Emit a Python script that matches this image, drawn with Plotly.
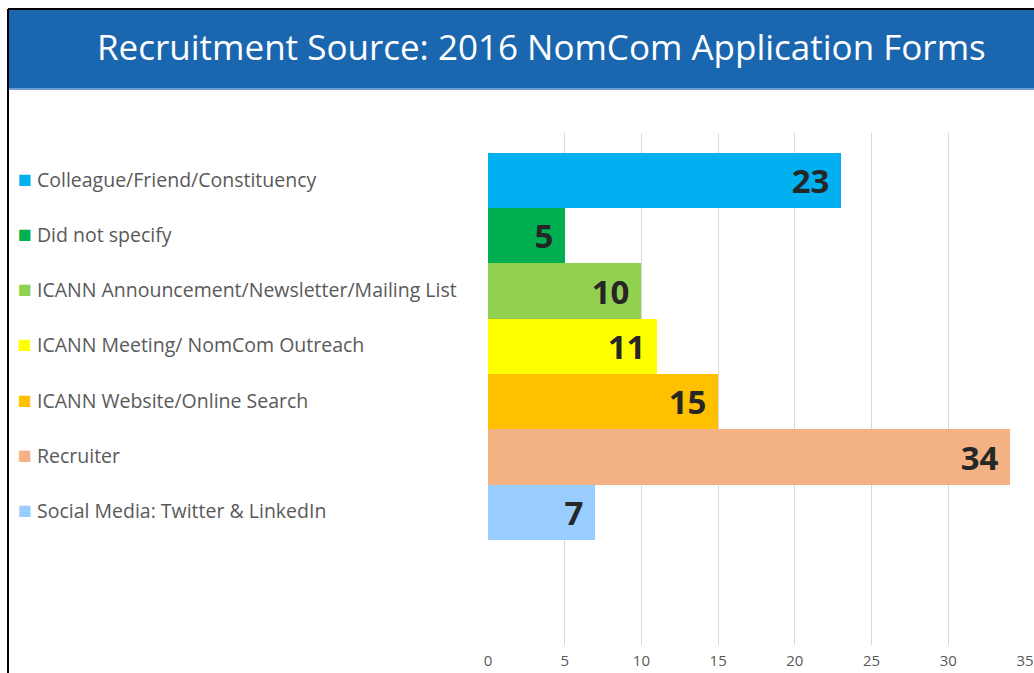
import plotly.graph_objects as go

categories = [
    "Colleague/Friend/Constituency",
    "Did not specify",
    "ICANN Announcement/Newsletter/Mailing List",
    "ICANN Meeting/ NomCom Outreach",
    "ICANN Website/Online Search",
    "Recruiter",
    "Social Media: Twitter & LinkedIn",
]
values = [23, 5, 10, 11, 15, 34, 7]
colors = ["#00B0F0", "#00B050", "#92D050", "#FFFF00", "#FFC000", "#F4B183", "#99CCFF"]
x_ticks = [0, 5, 10, 15, 20, 25, 30, 35]
title_text = "Recruitment Source: 2016 NomCom Application Forms"

W, H = 1034, 673
ML, MR, MT, MB = 488, 9, 133, 28
PW, PH = W - ML - MR, H - MT - MB


def px_x(p):
    return (p - ML) / PW


def px_y(p):
    return 1 - (p - MT) / PH


fig = go.Figure()
fig.add_trace(go.Bar(
    y=categories,
    x=values,
    orientation="h",
    marker=dict(color=colors, line=dict(width=0)),
    text=[f"{v}&nbsp;" for v in values],
    textposition="inside",
    insidetextanchor="end",
    textfont=dict(family="Open Sans", size=33, color="#262626", weight="bold"),
    showlegend=False,
    hoverinfo="x+y",
))

annotations = []
for c, col in zip(categories, colors):
    annotations.append(dict(
        xref="paper", yref="y", x=px_x(16), y=c, yshift=3,
        xanchor="left", yanchor="middle", showarrow=False,
        text=f"<span style='color:{col};font-size:23px'>■</span> {c}",
        font=dict(family="Open Sans", size=19.5, color="#595959"),
    ))
annotations.append(dict(
    xref="paper", yref="paper", x=px_x(541), y=px_y(46),
    xanchor="center", yanchor="middle", showarrow=False,
    text=title_text,
    font=dict(family="Open Sans", size=35, color="#FFFFFF"),
))

shapes = [
    dict(type="rect", xref="paper", yref="paper",
         x0=px_x(9), x1=px_x(W + 5), y0=px_y(88), y1=px_y(9),
         fillcolor="#1A67B0", line=dict(width=0), layer="above"),
    dict(type="line", xref="paper", yref="paper",
         x0=px_x(9), x1=px_x(W + 5), y0=px_y(89), y1=px_y(89),
         line=dict(color="#3A7FC2", width=1.5)),
    dict(type="line", xref="paper", yref="paper",
         x0=px_x(8), x1=px_x(W + 5), y0=px_y(9), y1=px_y(9),
         line=dict(color="#000000", width=2)),
    dict(type="line", xref="paper", yref="paper",
         x0=px_x(8), x1=px_x(8), y0=px_y(9), y1=px_y(H + 5),
         line=dict(color="#000000", width=2)),
]

fig.update_layout(
    width=W, height=H,
    margin=dict(l=ML, r=MR, t=MT, b=MB, autoexpand=False),
    paper_bgcolor="#FFFFFF", plot_bgcolor="#FFFFFF",
    bargap=0,
    uniformtext=dict(minsize=33, mode="show"),
    xaxis=dict(
        range=[0, 35], tickvals=x_ticks, showgrid=True, gridcolor="#D9D9D9",
        gridwidth=1, zeroline=False, showline=False, ticks="",
        tickfont=dict(family="Open Sans", size=15, color="#595959"),
        ticklabelstandoff=5,
        fixedrange=True, automargin=False,
    ),
    yaxis=dict(
        range=[8.4, -0.86], showticklabels=False, showgrid=False,
        zeroline=False, showline=False, ticks="", fixedrange=True,
        type="category", automargin=False,
    ),
    annotations=annotations,
    shapes=shapes,
)

fig.write_html(
    "out.html",
    config={"displayModeBar": False},
    post_script="document.body.style.margin='0';document.body.style.overflow='hidden';",
)
